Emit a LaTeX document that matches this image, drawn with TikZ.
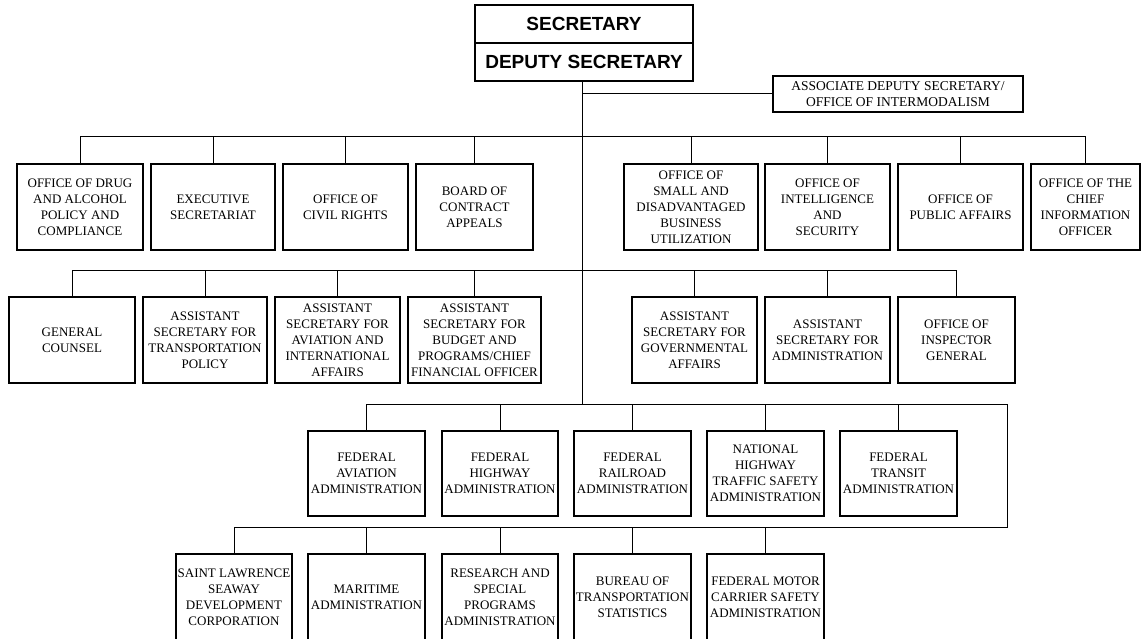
\documentclass[tikz,border=0pt]{standalone}
\usepackage{fontspec}
\setmainfont{Liberation Serif}
\newfontfamily\headfont{Liberation Sans}
\begin{document}
\begin{tikzpicture}[x=1pt,y=-1pt,
  orgbox/.style={draw, line width=1.2pt, inner sep=0pt, align=center, font=\fontsize{13}{16}\selectfont},
  rowone/.style={orgbox, minimum height=86pt},
  rowtwo/.style={orgbox, minimum height=86pt},
  rowthree/.style={orgbox, minimum height=85pt},
  rowfour/.style={orgbox, minimum height=87pt},
  headbox/.style={draw, line width=1.2pt, inner sep=0pt, minimum width=218pt, minimum height=38pt, font=\headfont\bfseries\fontsize{19}{22}\selectfont},
  link/.style={line width=1pt}]
\useasboundingbox (0,0) rectangle (1141,639);

% top
\node[headbox] (sec) at (584,24) {SECRETARY};
\node[headbox] (dep) at (584,62) {DEPUTY SECRETARY};
\node[orgbox, minimum width=250pt, minimum height=36pt, font=\fontsize{13.5}{16}\selectfont] (assoc) at (898,94) {ASSOCIATE DEPUTY SECRETARY/\\OFFICE OF INTERMODALISM};

% coordinates
\coordinate (t0) at (582,81);
\coordinate (ta) at (582,94);
\coordinate (bus1) at (0,137);
\coordinate (bus2) at (0,271);
\coordinate (bus3) at (582,404);
\coordinate (fr1) at (1007,404);
\coordinate (fr2) at (1007,527);
\coordinate (bus4) at (0,527);

% row 1
\node[rowone, minimum width=126pt] (a1) at (80,207) {OFFICE OF DRUG\\AND ALCOHOL\\POLICY AND\\COMPLIANCE};
\node[rowone, minimum width=124pt] (a2) at (213,207) {EXECUTIVE\\SECRETARIAT};
\node[rowone, minimum width=125pt] (a3) at (345.5,207) {OFFICE OF\\CIVIL RIGHTS};
\node[rowone, minimum width=117pt] (a4) at (474.5,207) {BOARD OF\\CONTRACT\\APPEALS};
\node[rowone, minimum width=134pt] (a5) at (691,207) {OFFICE OF\\SMALL AND\\DISADVANTAGED\\BUSINESS\\UTILIZATION};
\node[rowone, minimum width=125pt] (a6) at (827.5,207) {OFFICE OF\\INTELLIGENCE\\AND\\SECURITY};
\node[rowone, minimum width=125pt] (a7) at (960.5,207) {OFFICE OF\\PUBLIC AFFAIRS};
\node[rowone, minimum width=109pt] (a8) at (1085.5,207) {OFFICE OF THE\\CHIEF\\INFORMATION\\OFFICER};

% row 2
\node[rowtwo, minimum width=126pt] (b1) at (72,340) {GENERAL\\COUNSEL};
\node[rowtwo, minimum width=124pt] (b2) at (205,340) {ASSISTANT\\SECRETARY FOR\\TRANSPORTATION\\POLICY};
\node[rowtwo, minimum width=125pt] (b3) at (337.5,340) {ASSISTANT\\SECRETARY FOR\\AVIATION AND\\INTERNATIONAL\\AFFAIRS};
\node[rowtwo, minimum width=133pt] (b4) at (474.5,340) {ASSISTANT\\SECRETARY FOR\\BUDGET AND\\PROGRAMS/CHIEF\\FINANCIAL OFFICER};
\node[rowtwo, minimum width=125pt] (b5) at (694.5,340) {ASSISTANT\\SECRETARY FOR\\GOVERNMENTAL\\AFFAIRS};
\node[rowtwo, minimum width=125pt] (b6) at (827.5,340) {ASSISTANT\\SECRETARY FOR\\ADMINISTRATION};
\node[rowtwo, minimum width=117pt] (b7) at (956.5,340) {OFFICE OF\\INSPECTOR\\GENERAL};

% row 3
\node[rowthree, minimum width=117pt] (c1) at (366.5,473.5) {FEDERAL\\AVIATION\\ADMINISTRATION};
\node[rowthree, minimum width=116pt] (c2) at (500,473.5) {FEDERAL\\HIGHWAY\\ADMINISTRATION};
\node[rowthree, minimum width=117pt] (c3) at (632.5,473.5) {FEDERAL\\RAILROAD\\ADMINISTRATION};
\node[rowthree, minimum width=117pt] (c4) at (765.5,473.5) {NATIONAL\\HIGHWAY\\TRAFFIC SAFETY\\ADMINISTRATION};
\node[rowthree, minimum width=117pt] (c5) at (898.5,473.5) {FEDERAL\\TRANSIT\\ADMINISTRATION};

% row 4
\node[rowfour, minimum width=116pt] (d1) at (234,597.5) {SAINT LAWRENCE\\SEAWAY\\DEVELOPMENT\\CORPORATION};
\node[rowfour, minimum width=117pt] (d2) at (366.5,597.5) {MARITIME\\ADMINISTRATION};
\node[rowfour, minimum width=116pt] (d3) at (500,597.5) {RESEARCH AND\\SPECIAL\\PROGRAMS\\ADMINISTRATION};
\node[rowfour, minimum width=117pt] (d4) at (632.5,597.5) {BUREAU OF\\TRANSPORTATION\\STATISTICS};
\node[rowfour, minimum width=117pt] (d5) at (765.5,597.5) {FEDERAL MOTOR\\CARRIER SAFETY\\ADMINISTRATION};

% trunk and associate
\draw[link] (t0) -- (bus3);
\draw[link] (ta) -- (assoc.west);

% row 1 connectors
\draw[link] (a1.north |- bus1) -- (a8.north |- bus1);
\foreach \n in {a1,a2,a3,a4,a5,a6,a7,a8} \draw[link] (\n.north) -- (\n.north |- bus1);

% row 2 connectors
\draw[link] (b1.north |- bus2) -- (b7.north |- bus2);
\foreach \n in {b1,b2,b3,b4,b5,b6,b7} \draw[link] (\n.north) -- (\n.north |- bus2);

% row 3 / row 4 connectors
\draw[link] (c1.north |- bus3) -- (fr1) -- (fr2) -- (d1.north |- bus4);
\foreach \n in {c1,c2,c3,c4,c5} \draw[link] (\n.north) -- (\n.north |- bus3);
\foreach \n in {d1,d2,d3,d4,d5} \draw[link] (\n.north) -- (\n.north |- bus4);
\end{tikzpicture}
\end{document}
